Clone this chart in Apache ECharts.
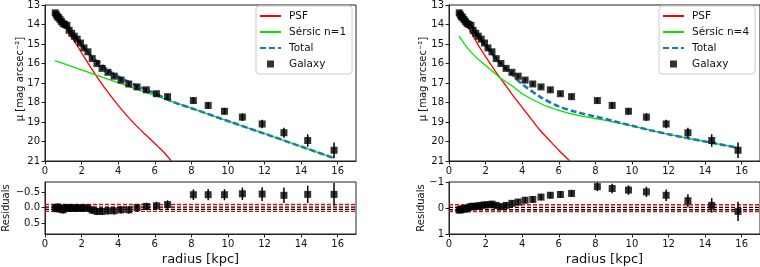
<!DOCTYPE html>
<html>
<head>
<meta charset="utf-8">
<script src="https://cdn.jsdelivr.net/npm/echarts@6/dist/echarts.min.js"></script>
<style>html,body{margin:0;padding:0;background:#fff}#c{width:760px;height:267px}</style>
</head>
<body>
<div id="c"></div>
<script>
// ---- data ----
const radius = [0.56,0.62,0.68,0.75,0.82,0.90,0.99,1.09,1.20,1.32,1.46,1.60,1.76,1.94,2.13,2.35,2.58,2.84,3.12,3.44,3.78,4.16,4.58,5.03,5.54,6.09,6.70,8.11,8.92,9.81,10.79,11.87,13.06,14.36,15.80];
const mu = [13.40,13.50,13.60,13.65,13.75,13.85,13.95,14.00,14.05,14.30,14.45,14.60,14.75,14.95,15.20,15.40,15.75,16.00,16.25,16.45,16.65,16.85,17.05,17.20,17.35,17.55,17.70,17.90,18.15,18.45,18.75,19.10,19.55,19.95,20.45];
const muErr = [0.08,0.08,0.08,0.08,0.08,0.08,0.08,0.08,0.08,0.08,0.08,0.08,0.08,0.08,0.08,0.08,0.08,0.09,0.09,0.09,0.09,0.09,0.1,0.1,0.11,0.12,0.13,0.15,0.17,0.17,0.2,0.22,0.26,0.32,0.4];
const res1 = [0.00,0.03,-0.02,0.03,0.00,0.05,0.07,0.02,0.00,0.02,0.00,0.02,0.00,0.02,0.00,0.02,0.08,0.12,0.12,0.10,0.10,0.07,0.07,0.00,-0.04,-0.06,-0.10,-0.42,-0.42,-0.42,-0.45,-0.44,-0.40,-0.43,-0.43];
const res4 = [0.08,0.07,0.05,0.03,0.05,0.02,0.03,-0.03,-0.05,-0.07,-0.06,-0.08,-0.10,-0.12,-0.12,-0.15,-0.10,-0.05,-0.10,-0.18,-0.23,-0.30,-0.33,-0.42,-0.49,-0.52,-0.56,-0.82,-0.75,-0.69,-0.62,-0.49,-0.28,-0.10,0.13];
const resErr = [0.12,0.12,0.12,0.12,0.12,0.12,0.12,0.12,0.12,0.12,0.12,0.12,0.12,0.12,0.12,0.12,0.12,0.12,0.12,0.12,0.12,0.12,0.12,0.12,0.12,0.13,0.14,0.17,0.18,0.18,0.2,0.22,0.25,0.28,0.37];

// model curves, n=1 panel
const psf1X = [0.55,1.0,1.5,2.0,2.5,3.0,3.5,4.0,4.5,5.0,5.5,6.0,6.5,6.9];
const psf1Y = [13.40,13.95,14.70,15.45,16.20,16.90,17.55,18.15,18.70,19.20,19.65,20.10,20.55,21.0];
const ser1X = [0.55,2,4,6,8,10,12,14,15.8];
const ser1Y = [15.85,16.33,16.98,17.64,18.29,18.95,19.60,20.26,20.85];
const tot1X = [0.55,1.0,1.5,2.0,2.5,3.0,3.5,4.0,5.0,6.0,7.0,8,10,12,14,15.8];
const tot1Y = [13.30,13.80,14.45,15.05,15.60,16.00,16.37,16.66,17.14,17.53,17.97,18.29,18.95,19.60,20.26,20.85];
// model curves, n=4 panel
const psf4X = [0.55,1.0,1.5,2.0,2.5,3.0,3.5,4.0,4.5,5.0,5.5,6.0,6.6];
const psf4Y = [13.65,14.10,14.90,15.65,16.35,17.00,17.65,18.25,18.85,19.45,19.95,20.45,21.0];
const ser4X = [0.55,1.0,1.5,2.0,2.5,2.8,3.5,4.0,5.0,6.0,7.0,8.0,9.0,10.0,11.0,12.0,13.0,14.0,15.0,15.8];
const ser4Y = [14.60,15.20,15.70,16.10,16.50,16.74,17.18,17.55,18.05,18.40,18.65,18.82,19.00,19.20,19.42,19.63,19.82,20.00,20.18,20.32];
const tot4X = [0.55,1.0,1.5,2.0,2.5,3.0,3.5,4.0,5.0,6.0,7.0,8.0,9.0,10.0,11.0,12.0,13.0,14.0,15.0,15.8];
const tot4Y = [13.27,13.76,14.47,15.10,15.67,16.18,16.62,17.06,17.72,18.20,18.50,18.72,18.95,19.19,19.42,19.63,19.82,20.00,20.18,20.32];

// residual reference lines
const redBand1 = [-0.105, 0.118];
const blackBand1 = [-0.019, 0.054];
const redBand4 = [-0.126, 0.14];
const blackBand4 = [-0.023, 0.065];

const xTicks = [0,2,4,6,8,10,12,14,16];
const muTicks = [13,14,15,16,17,18,19,20,21];
const res1Ticks = [-0.5,0,0.5];
const res4Ticks = [-1,0,1];

// ---- build ----
const FONT = 'DejaVu Sans';
const pairs = (xs, ys) => xs.map((x, i) => [x, ys[i]]);
const fmt1 = v => (v < 0 ? '\u2212' : '') + Math.abs(v).toFixed(1);
const fmt0 = v => (v < 0 ? '\u2212' : '') + Math.abs(v).toFixed(0);

const grids = [
  {left: 45, top: 3, width: 311, height: 158},
  {left: 45, top: 182, width: 311, height: 53},
  {left: 449, top: 3, width: 311, height: 158},
  {left: 449, top: 182, width: 311, height: 53}
].map(g => Object.assign(g, {show: true, borderColor: '#222', borderWidth: 1, containLabel: false}));

function xAxis(gi, withName) {
  const a = {
    type: 'value', gridIndex: gi, min: 0, max: 17,
    axisLine: {show: true, onZero: false, lineStyle: {color: '#222', width: 1}},
    axisTick: {show: true, length: 3.5, customValues: xTicks, lineStyle: {color: '#222'}},
    axisLabel: {customValues: xTicks, fontFamily: FONT, fontSize: 10, color: '#111', margin: 5},
    splitLine: {show: false}
  };
  if (withName) {
    a.name = 'radius [kpc]';
    a.nameLocation = 'middle';
    a.nameGap = 19;
    a.nameTextStyle = {fontFamily: FONT, fontSize: 13, color: '#111'};
  }
  return a;
}
function yAxis(gi, min, max, ticks, fmt) {
  return {
    type: 'value', gridIndex: gi, min: min, max: max, inverse: true,
    axisLine: {show: true, onZero: false, lineStyle: {color: '#222', width: 1}},
    axisTick: {show: true, length: 3.5, customValues: ticks, lineStyle: {color: '#222'}},
    axisLabel: {customValues: ticks, formatter: fmt, fontFamily: FONT, fontSize: 10, color: '#111', margin: 5},
    splitLine: {show: false}
  };
}

function errSeries(xi, yi, xs, ys, es) {
  return {
    type: 'custom', xAxisIndex: xi, yAxisIndex: yi, clip: true, silent: true, z: 4,
    data: xs.map((x, i) => [x, ys[i] - es[i], ys[i] + es[i]]),
    encode: {x: 0, y: [1, 2]},
    renderItem: function (params, api) {
      const p1 = api.coord([api.value(0), api.value(1)]);
      const p2 = api.coord([api.value(0), api.value(2)]);
      return {type: 'line', shape: {x1: p1[0], y1: p1[1], x2: p2[0], y2: p2[1]}, style: {stroke: '#000', lineWidth: 1.5}};
    }
  };
}
function lineSeries(name, xi, yi, data, color, width, dash, z) {
  return {
    name: name, type: 'line', xAxisIndex: xi, yAxisIndex: yi, data: data,
    showSymbol: false, symbol: 'none', smooth: 0.3, clip: true, z: z, silent: true,
    lineStyle: {color: color, width: width, type: dash ? [6, 3] : 'solid'},
    itemStyle: {color: color}
  };
}
function refLines(xi, yi, vals, color) {
  return vals.map(v => ({
    type: 'line', xAxisIndex: xi, yAxisIndex: yi, data: [[0, v], [17, v]],
    showSymbol: false, symbol: 'none', silent: true, z: 2,
    lineStyle: {color: color, width: 1.4, type: [4, 2]}
  }));
}
function scatter(name, xi, yi, xs, ys) {
  return {
    name: name, type: 'scatter', xAxisIndex: xi, yAxisIndex: yi, data: pairs(xs, ys),
    symbol: 'rect', symbolSize: 7, itemStyle: {color: '#000'}, z: 5, silent: true
  };
}

const series = [
  lineSeries('PSF', 0, 0, pairs(psf1X, psf1Y), '#ff0000', 1.3, false, 2),
  lineSeries('Sérsic n=1', 0, 0, pairs(ser1X, ser1Y), '#00e600', 1.3, false, 2),
  lineSeries('Total', 0, 0, pairs(tot1X, tot1Y), '#1f77b4', 2.6, true, 3),
  errSeries(0, 0, radius, mu, muErr),
  scatter('Galaxy', 0, 0, radius, mu),
  ...refLines(1, 1, redBand1, '#ff0000'),
  ...refLines(1, 1, blackBand1, '#000000'),
  errSeries(1, 1, radius, res1, resErr),
  scatter('Galaxy', 1, 1, radius, res1),

  lineSeries('PSF', 2, 2, pairs(psf4X, psf4Y), '#ff0000', 1.3, false, 2),
  lineSeries('Sérsic n=4', 2, 2, pairs(ser4X, ser4Y), '#00e600', 1.3, false, 2),
  lineSeries('Total', 2, 2, pairs(tot4X, tot4Y), '#1f77b4', 2.6, true, 3),
  errSeries(2, 2, radius, mu, muErr),
  scatter('Galaxy', 2, 2, radius, mu),
  ...refLines(3, 3, redBand4, '#ff0000'),
  ...refLines(3, 3, blackBand4, '#000000'),
  errSeries(3, 3, radius, res4, resErr),
  scatter('Galaxy', 3, 3, radius, res4)
];

// square icon centred in a 21x7 slot (invisible hairlines pin the bounding box)
const squareIcon = 'path://M0,0L0,0.01L0.01,0.01ZM7,0L14,0L14,7L7,7ZM21,7L21,6.99L20.99,6.99Z';

function legend(left, sersicName) {
  const hide = {opacity: 0};
  return {
    left: left, top: 6, orient: 'vertical', padding: [2, 6, 2, 3],
    itemWidth: 21, itemHeight: 7, itemGap: 0,
    borderColor: '#cccccc', borderWidth: 1, borderRadius: 3, backgroundColor: 'rgba(255,255,255,0.8)',
    selectedMode: false,
    textStyle: {fontFamily: FONT, fontSize: 10.5, color: '#111', lineHeight: 16, padding: [0, 0, 0, 3]},
    data: [
      {name: 'PSF', itemStyle: hide},
      {name: sersicName, itemStyle: hide},
      {name: 'Total', itemStyle: hide},
      {name: 'Galaxy', icon: squareIcon, itemStyle: {color: '#000'}}
    ]
  };
}

function yTitle(text, cx, cy) {
  return {
    type: 'text', x: cx, y: cy, rotation: Math.PI / 2, silent: true,
    style: {text: text, fontFamily: FONT, fontSize: 10, fill: '#111', align: 'center', verticalAlign: 'middle'}
  };
}

const chart = echarts.init(document.getElementById('c'), null, {renderer: 'canvas'});
chart.setOption({
  animation: false,
  backgroundColor: '#fff',
  grid: grids,
  xAxis: [xAxis(0, false), xAxis(1, true), xAxis(2, false), xAxis(3, true)],
  yAxis: [
    yAxis(0, 13, 21, muTicks, v => String(v)),
    yAxis(1, -0.83, 0.85, res1Ticks, fmt1),
    yAxis(2, 13, 21, muTicks, v => String(v)),
    yAxis(3, -1, 1, res4Ticks, fmt0)
  ],
  legend: [legend(256, 'Sérsic n=1'), legend(659, 'Sérsic n=4')],
  graphic: [
    yTitle('μ [mag arcsec⁻²]', 20, 79),
    yTitle('μ [mag arcsec⁻²]', 423, 79),
    yTitle('Residuals', 6, 208),
    yTitle('Residuals', 421, 208)
  ],
  series: series
});
</script>
</body>
</html>
